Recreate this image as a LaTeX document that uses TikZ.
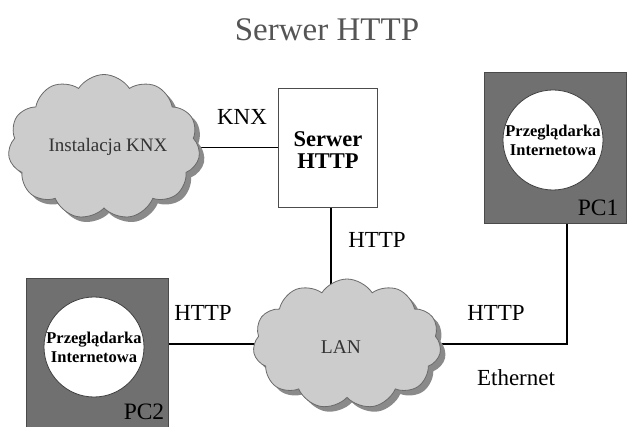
\documentclass[tikz,border=0pt]{standalone}
\usepackage{fontspec}
\setmainfont{Liberation Serif}
\usetikzlibrary{shapes.symbols,shadows,backgrounds}
\definecolor{cloudfill}{HTML}{CCCCCC}
\definecolor{cloudedge}{HTML}{6A6A6A}
\definecolor{shadowc}{HTML}{8A8A8A}
\definecolor{pcfill}{HTML}{707070}
\definecolor{pcedge}{HTML}{4A4A4A}
\definecolor{titlec}{HTML}{555555}
\begin{document}
\begin{tikzpicture}[x=1pt,y=-1pt,
  cloudnode/.style={cloud, cloud puffs=11, cloud puff arc=115, fill=cloudfill, draw=cloudedge, line width=0.8pt,
    drop shadow={shadow xshift=5pt, shadow yshift=-5pt, fill=shadowc, opacity=1}, inner sep=0pt},
  pcbox/.style={rectangle, fill=pcfill, draw=pcedge, line width=0.8pt, minimum width=142pt, minimum height=151pt},
  browser/.style={circle, fill=white, draw=black!75, line width=0.8pt, minimum size=96pt, inner sep=0pt,
    align=center, font=\fontsize{16.5}{19}\selectfont\bfseries},
  lbl/.style={font=\fontsize{23}{25}\selectfont, text=black},
  conn/.style={line width=1.5pt, black}]
\useasboundingbox (0,0) rectangle (629,427);
\node[font=\fontsize{33}{36}\selectfont, text=titlec] (title) at (327,30) {Serwer HTTP};
\node[cloudnode, minimum width=192pt, minimum height=145pt] (knx) at (104,147) {};
\node[font=\fontsize{19}{21}\selectfont, text=black!80] (knxt) at (108,147) {Instalacja KNX};
\node[rectangle, fill=white, draw=black!70, line width=0.8pt, minimum width=99pt, minimum height=119pt,
  align=center, font=\fontsize{22.5}{22}\selectfont\bfseries] (srv) at (327.5,147.5) {};
\node[align=center, font=\fontsize{22.5}{22}\selectfont\bfseries] (srvt) at (328,150) {Serwer\\HTTP};
\node[cloudnode, minimum width=188pt, minimum height=130pt] (lan) at (347,344) {};
\node[font=\fontsize{19.5}{21}\selectfont, text=black!80] (lant) at (341,347) {LAN};
\node[pcbox] (pc1) at (555,147.5) {};
\node[browser] (br1) at (553,140) {Przeglądarka\\Internetowa};
\node[font=\fontsize{23.5}{25}\selectfont] (pc1t) at (598,208) {PC1};
\node[pcbox] (pc2) at (97.5,353.5) {};
\node[browser] (br2) at (94,347) {Przeglądarka\\Internetowa};
\node[font=\fontsize{23.5}{25}\selectfont] (pc2t) at (144,412) {PC2};
\node[lbl] (l1) at (242,117) {KNX};
\node[lbl] (l2) at (377,240) {HTTP};
\node[lbl] (l3) at (203,313) {HTTP};
\node[lbl] (l4) at (496,313) {HTTP};
\node[lbl] (l5) at (516,378) {Ethernet};
\coordinate (srvdown) at ([xshift=3.5pt]srv.south);
\coordinate (pc1down) at ([xshift=12pt]pc1.south);
\begin{scope}[on background layer]
\draw[conn] (knx.center |- srv.west) -- (srv.west);
\draw[conn] (srvdown) -- (srvdown |- lan.center);
\draw[conn] (pc1down) |- (lan.center);
\draw[conn] (pc2.east |- lan.center) -- (lan.center);
\end{scope}
\end{tikzpicture}
\end{document}
